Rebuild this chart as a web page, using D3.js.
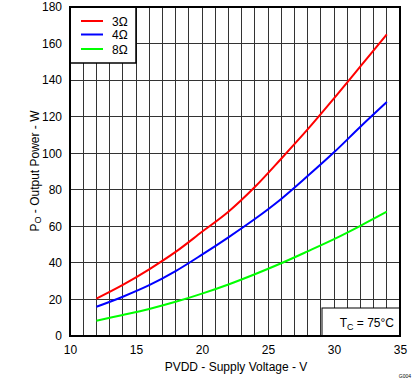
<!DOCTYPE html>
<html><head><meta charset="utf-8">
<script src="https://cdn.jsdelivr.net/npm/d3@7"></script>
<style>
body{margin:0;background:#fff;}
text{font-family:"Liberation Sans",Arial,sans-serif;}
</style></head>
<body><svg id="c" width="419" height="382"></svg>
<script>
const voltages = [12,14,16,18,20,22,24,26,28,30,32,34];
const power3 = [20.5,28,36.5,46,57,68,81.5,97,113,130,147.5,165];
const power4 = [16,21.5,27.8,35.5,44.5,54,64,75,87.5,100.5,114.5,128];
const power8 = [8.4,11.5,14.8,18.7,23.2,28.2,33.8,39.8,46.3,53,60.3,68];
const seriesNames = ["3\u03A9","4\u03A9","8\u03A9"];
const seriesColors = ["#ff0000","#0000ff","#00ff00"];
const xTicks = [10,15,20,25,30,35];
const yTicks = [0,20,40,60,80,100,120,140,160,180];

const svg = d3.select("#c");
const L=70,R=400,T=7,B=336;
const x = d3.scaleLinear().domain([10,35]).range([L,R]);
const y = d3.scaleLinear().domain([0,180]).range([B,T]);

// grid
const g = svg.append("g");
g.selectAll(".vg").data(d3.range(11,35)).join("line")
  .attr("x1",d=>x(d)).attr("x2",d=>x(d)).attr("y1",T).attr("y2",B)
  .attr("stroke","#333").attr("stroke-width",1).attr("shape-rendering","crispEdges");
g.selectAll(".hg").data(yTicks.slice(1,-1)).join("line")
  .attr("y1",d=>y(d)).attr("y2",d=>y(d)).attr("x1",L).attr("x2",R)
  .attr("stroke","#333").attr("stroke-width",1).attr("shape-rendering","crispEdges");

// axes labels
const xAxis = d3.axisBottom(x).tickValues(xTicks).tickSize(0).tickPadding(9);
const xa = svg.append("g").attr("transform",`translate(0,${B})`).call(xAxis);
xa.select(".domain").remove();
xa.selectAll("text").attr("font-size","12px").attr("fill","#000").attr("font-family","Liberation Sans, Arial");
const yAxis = d3.axisLeft(y).tickValues(yTicks).tickSize(0).tickPadding(8);
const ya = svg.append("g").attr("transform",`translate(${L},0)`).call(yAxis);
ya.select(".domain").remove();
ya.selectAll("text").attr("font-size","12px").attr("fill","#000").attr("font-family","Liberation Sans, Arial");

// series
const line = d3.line().x((d,i)=>x(voltages[i])).y(d=>y(d)).curve(d3.curveCatmullRom.alpha(0.5));
[power3,power4,power8].forEach((s,k)=>{
  svg.append("path").datum(s).attr("d",line).attr("fill","none")
    .attr("stroke",seriesColors[k]).attr("stroke-width",2);
});

// legend
svg.append("rect").attr("x",L).attr("y",T).attr("width",66).attr("height",56)
  .attr("fill","#fff").attr("stroke","#000").attr("stroke-width",1.5);
seriesNames.forEach((n,k)=>{
  const yy=[21,34.5,49][k];
  svg.append("line").attr("x1",81).attr("x2",103).attr("y1",yy).attr("y2",yy)
    .attr("stroke",seriesColors[k]).attr("stroke-width",2);
  svg.append("text").attr("x",112).attr("y",yy+4.5).attr("font-size","12px").text(n);
});

// Tc box
svg.append("rect").attr("x",322).attr("y",308).attr("width",R-322).attr("height",B-308)
  .attr("fill","#fff").attr("stroke","#000").attr("stroke-width",1);
const tc = svg.append("text").attr("x",394).attr("y",327).attr("text-anchor","end").attr("font-size","12px");
tc.append("tspan").text("T");
tc.append("tspan").attr("font-size","9px").attr("dy",3).text("C");
tc.append("tspan").attr("dy",-3).text(" = 75\u00B0C");

// frame
svg.append("rect").attr("x",L).attr("y",T).attr("width",R-L).attr("height",B-T)
  .attr("fill","none").attr("stroke","#000").attr("stroke-width",2);

// titles
svg.append("text").attr("x",(L+R)/2+1).attr("y",371).attr("text-anchor","middle")
  .attr("font-size","12px").text("PVDD - Supply Voltage - V");
const yt = svg.append("text").attr("transform","translate(39,171) rotate(-90)")
  .attr("text-anchor","middle").attr("font-size","12px");
yt.append("tspan").text("P");
yt.append("tspan").attr("font-size","9px").attr("dy",2).text("O");
yt.append("tspan").attr("dy",-2).text(" - Output Power - W");

svg.append("text").attr("x",411).attr("y",378).attr("text-anchor","end")
  .attr("font-size","5px").text("G004");
</script></body></html>
